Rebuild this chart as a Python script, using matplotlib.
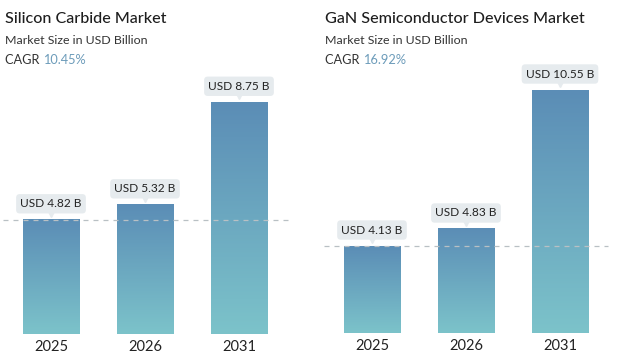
import matplotlib
matplotlib.use("Agg")

import matplotlib.pyplot as plt
import matplotlib.transforms as mtransforms
import numpy as np
from matplotlib.colors import LinearSegmentedColormap

plt.rcParams['font.family'] = ['Lato', 'DejaVu Sans']

years = ['2025', '2026', '2031']
sic_values = [4.82, 5.32, 8.75]
gan_values = [4.13, 4.83, 10.55]
titles = ['Silicon Carbide Market', 'GaN Semiconductor Devices Market']
subtitle = 'Market Size in USD Billion'
cagrs = ['10.45%', '16.92%']

W, H = 619, 356
fig = plt.figure(figsize=(W / 100, H / 100), dpi=100)

cmap = LinearSegmentedColormap.from_list('bar', ['#7cc3ca', '#5b8db6'])
grad = np.linspace(0, 1, 256).reshape(-1, 1)


def panel(left_px, width_px, base_px, values, ylo, yhi, xlo, xhi, dash_span):
    ax = fig.add_axes([left_px / W, (H - base_px) / H, width_px / W, base_px / H])
    ax.set_xlim(xlo, xhi)
    ax.set_ylim(ylo, yhi)
    ax.axis('off')
    w = 0.6
    below = mtransforms.offset_copy(ax.transData, fig=fig, x=0, y=-6, units='dots')
    for i, v in enumerate(values):
        ax.imshow(grad, extent=[i - w / 2, i + w / 2, ylo, v], origin='lower',
                  cmap=cmap, aspect='auto', zorder=2)
        ax.annotate(f'USD {v:.2f} B', xy=(i, v), xytext=(0, 16),
                    textcoords='offset pixels', ha='center', va='center',
                    fontsize=8.6, color='#222222', zorder=5,
                    bbox=dict(boxstyle='round,pad=0.35,rounding_size=0.3',
                              fc='#e6ebee', ec='none'))
        tri = mtransforms.offset_copy(ax.transData, fig=fig, x=0, y=6, units='dots')
        ax.plot([i], [v], marker='v', ms=5, color='#e6ebee', transform=tri, zorder=4)
        ax.text(i, ylo, years[i], transform=below, ha='center', va='top',
                fontsize=10.5, color='#222222', clip_on=False)
    # dashed reference line at first year
    ax.plot(dash_span, [values[0], values[0]], ls=(0, (4, 4)), lw=0.9,
            color='#b9c0c4', zorder=3, clip_on=False)
    ax.set_xlim(xlo, xhi)
    return ax


# left panel: Silicon Carbide
ax1 = panel(0, 310, 334, sic_values, 1.0, 1.0 + 334 / 29.9, -51 / 94, 259 / 94,
            [-48 / 94, 237 / 94])
# right panel: GaN
ax2 = panel(310, 309, 333, gan_values, 0.55, 0.55 + 333 / 24.3, -62 / 94, 247 / 94,
            [-48 / 94, 236 / 94])

for x0, t, c in [(5, titles[0], cagrs[0]), (325, titles[1], cagrs[1])]:
    fig.text(x0 / W, 1 - 19 / H, t, fontsize=11.6, color='#1e1e1e', va='center',
             fontweight='medium')
    fig.text(x0 / W, 1 - 41 / H, subtitle, fontsize=8.9, color='#333333', va='center')
    t1 = fig.text(x0 / W, 1 - 60 / H, 'CAGR ', fontsize=9.2, color='#333333', va='center')
    fig.canvas.draw()
    bb = t1.get_window_extent()
    fig.text(bb.x1 / W, 1 - 60 / H, c, fontsize=9.2, color='#6d9cba', va='center')

fig.savefig('out.png', dpi=100)
plt.close(fig)
